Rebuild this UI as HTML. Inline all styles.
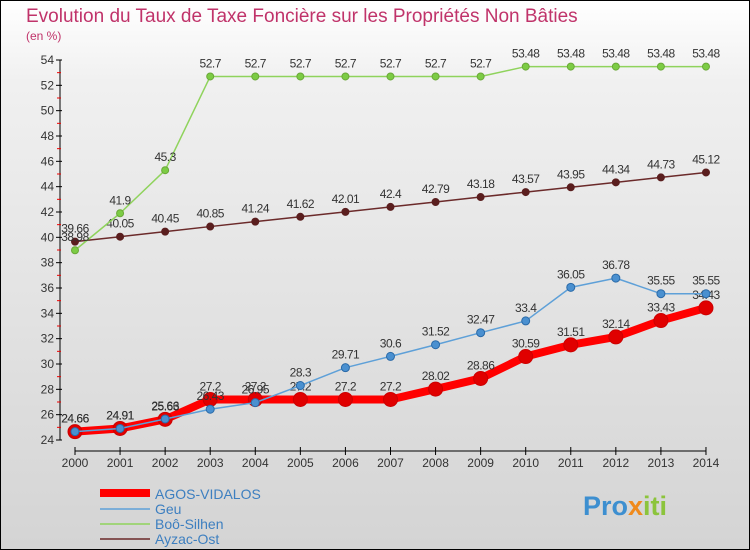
<!DOCTYPE html>
<html><head><meta charset="utf-8"><style>
body{margin:0;}
#c{width:750px;height:550px;position:relative;overflow:hidden;font-family:"Liberation Sans",sans-serif;}
</style></head><body>
<div id="c">
<svg id="s" width="750" height="550" xmlns="http://www.w3.org/2000/svg">
<defs><linearGradient id="bg" x1="0" y1="0" x2="0" y2="1"><stop offset="0" stop-color="#ffffff"/><stop offset="0.15" stop-color="#f0f0f0"/><stop offset="1" stop-color="#d4d4d4"/></linearGradient></defs>
<rect x="0.5" y="0.5" width="749" height="549" fill="url(#bg)" stroke="#000"/>
<text x="26" y="22" font-size="19" fill="#c0336a">Evolution du Taux de Taxe Foncière sur les Propriétés Non Bâties</text>
<text x="26" y="40" font-size="12" fill="#c0336a">(en %)</text>
<g id="axes"></g><g id="series"></g>
<g>
<line x1="100" y1="493" x2="150" y2="493" stroke="#ff0000" stroke-width="8"/>
<text x="155" y="499" font-size="14" fill="#3d7fc0">AGOS-VIDALOS</text>
<line x1="100" y1="509" x2="150" y2="509" stroke="#5ea0d8" stroke-width="1.5"/>
<text x="155" y="514" font-size="14" fill="#3d7fc0">Geu</text>
<line x1="100" y1="524" x2="150" y2="524" stroke="#8fd35c" stroke-width="1.5"/>
<text x="155" y="529" font-size="14" fill="#3d7fc0">Boô-Silhen</text>
<line x1="100" y1="539" x2="150" y2="539" stroke="#6b2a2a" stroke-width="1.5"/>
<text x="155" y="544" font-size="14" fill="#3d7fc0">Ayzac-Ost</text>
</g>
<text x="583" y="515" font-size="27" font-weight="bold" fill="#3d8fd0">Pro<tspan fill="#f08a1c">x</tspan><tspan fill="#8cc43c">iti</tspan></text>
</svg>
</div>
<script>
const years=[2000,2001,2002,2003,2004,2005,2006,2007,2008,2009,2010,2011,2012,2013,2014];
const agos=[24.66,24.91,25.63,27.2,27.2,27.2,27.2,27.2,28.02,28.86,30.59,31.51,32.14,33.43,34.43];
const geu=[24.66,24.91,25.66,26.43,26.95,28.3,29.71,30.6,31.52,32.47,33.4,36.05,36.78,35.55,35.55];
const boo=[38.98,41.9,45.3,52.7,52.7,52.7,52.7,52.7,52.7,52.7,53.48,53.48,53.48,53.48,53.48];
const ayzac=[39.66,40.05,40.45,40.85,41.24,41.62,42.01,42.4,42.79,43.18,43.57,43.95,44.34,44.73,45.12];
const yTicks=[24,26,28,30,32,34,36,38,40,42,44,46,48,50,52,54];
const NS="http://www.w3.org/2000/svg";
const X=i=>75+i*45.07;
const Y=v=>440-(v-24)*12.667;
function mk(tag,attrs,parent,txt){const e=document.createElementNS(NS,tag);for(const k in attrs)e.setAttribute(k,attrs[k]);if(txt!==undefined)e.textContent=txt;parent.appendChild(e);return e;}
const ax=document.getElementById('axes');
let e=mk('line',{x1:60,y1:Y(54),x2:60,y2:Y(24),stroke:'#000'},ax);


e=mk('line',{x1:X(0),y1:451,x2:X(14),y2:451,stroke:'#000'},ax);


yTicks.forEach(v=>{
 mk('line',{x1:56,y1:Y(v),x2:62,y2:Y(v),stroke:'#000'},ax);
 if(v<54) mk('line',{x1:57,y1:Y(v+1),x2:61,y2:Y(v+1),stroke:'#e00'},ax);
 const t=mk('text',{x:54,y:Y(v)+4,'font-size':12,fill:'#333','text-anchor':'end'},ax,v);
 
 
});
years.forEach((y,i)=>{
 mk('line',{x1:X(i),y1:447,x2:X(i),y2:455,stroke:'#000'},ax);
 const t=mk('text',{x:X(i),y:467,'font-size':12,fill:'#333','text-anchor':'middle'},ax,y);
 
 
});
const sg=document.getElementById('series');
function draw(name,vals,color,w,r,dot,dotStroke){
 const g=mk('g',{},sg);
 
 
 const p=mk('polyline',{points:vals.map((v,i)=>X(i)+','+Y(v)).join(' '),fill:'none',stroke:color,'stroke-width':w,'stroke-linejoin':'round'},g);
 
 
 vals.forEach((v,i)=>{
  const c=mk('circle',{cx:X(i),cy:Y(v),r:r,fill:dot,stroke:dotStroke,'stroke-width':1},g);
  
  
  const t=mk('text',{x:X(i),y:Y(v)-9,'font-size':12,fill:'#333','text-anchor':'middle','letter-spacing':'-0.5'},g,String(v).replace('.7','.7'));
  
  
 });
}
draw('ayzac',ayzac,'#6b2a2a',1.5,3.5,'#5a1e1e','#5a1e1e');
draw('boo',boo,'#8fd35c',1.5,3.5,'#7ccc44','#6aa838');
draw('agos',agos,'#ff0000',8,7,'#e00000','#c00');
draw('geu',geu,'#5ea0d8',1.5,4,'#4a90d0','#2a6aa8');
</script>
</body></html>
